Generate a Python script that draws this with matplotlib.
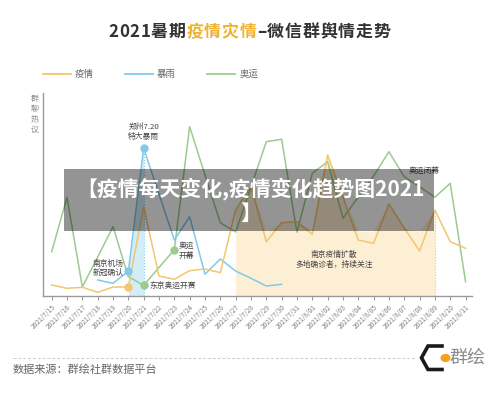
import numpy as np
import matplotlib
matplotlib.use('Agg')
from matplotlib import pyplot as plt
from matplotlib.lines import Line2D
from matplotlib.patches import Rectangle, Circle

plt.rcParams['font.family'] = ['Noto Sans CJK SC', 'DejaVu Sans']

DATES = ['2021/7/15', '2021/7/16', '2021/7/17', '2021/7/18', '2021/7/19', '2021/7/20', '2021/7/21',
         '2021/7/22', '2021/7/23', '2021/7/24', '2021/7/25', '2021/7/26', '2021/7/27', '2021/7/28',
         '2021/7/29', '2021/7/30', '2021/7/31', '2021/8/01', '2021/8/02', '2021/8/03', '2021/8/04',
         '2021/8/05', '2021/8/06', '2021/8/07', '2021/8/08', '2021/8/09', '2021/8/10', '2021/8/11']

# 疫情 (epidemic)
EPIDEMIC = [11, 7.7, 8.7, 3.7, 9, 9, 89.3, 20, 16.7, 25.3, 27, 23.3, 86, 110,
            54.3, 73.3, 74.3, 61.7, 141, 99, 56, 52.7, 92, 68, 45, 86, 54.3, 47.7]
# 暴雨 (rainstorm), 7/18 .. 7/30
RAIN_START = 3
RAIN = [16, 12.7, 24.7, 147.7, 102, 56, 79.3, 21.8, 37, 25, 17.7, 10, 11.7]
# 奥运 (olympics)
OLYMPICS = [44.3, 98.7, 9, 39, 69.3, 19.3, 10.7, 28.5, 46.3, 169.3, 121, 73.3, 64, 109,
            154.3, 156.7, 63.7, 122.7, 134.3, 77.7, 99, 120, 144.3, 119.3, 109.3, 98.7, 112.7, 14.3]

EPI_FILL = (12, 25)     # 7/27 .. 8/9 shaded
EPI_FILL_LEVEL = 65
RAIN_FILL = (5, 6)      # 7/20 .. 7/21

ORANGE = '#f3c66f'
BLUE = '#82c9ea'
GREEN = '#9ccb8e'
TXT = '#444444'

W, H = 500, 401
fig = plt.figure(figsize=(5, 4.01), dpi=100)


def fx(px):
    return px / W


def fy(py):
    return 1 - py / H


ax = fig.add_axes([fx(43), fy(296), fx(472) - fx(43), fy(93) - fy(296)])
x = np.arange(len(DATES))
epi = np.array(EPIDEMIC)
rain_x = np.arange(RAIN_START, RAIN_START + len(RAIN))
rain = np.array(RAIN)
oly = np.array(OLYMPICS)

# shaded regions
s, e = EPI_FILL
ax.fill_between(x[s:e + 1], 0, np.maximum(epi[s:e + 1], EPI_FILL_LEVEL), color='#fdefd4', lw=0, zorder=1)
rs, re_ = RAIN_FILL
ax.fill_between(x[rs:re_ + 1], 0, rain[rs - RAIN_START:re_ - RAIN_START + 1], color='#d3edf8', lw=0, zorder=1)
ax.vlines(x[re_], 0, rain[re_ - RAIN_START], colors=BLUE, linestyles=':', lw=0.8, zorder=2)
ax.vlines(x[e], 0, epi[e], colors=ORANGE, linestyles=':', lw=0.8, zorder=2)

ax.plot(x, oly, color=GREEN, lw=1.1, zorder=3)
ax.plot(rain_x, rain, color=BLUE, lw=1.1, zorder=3)
ax.plot(x, epi, color=ORANGE, lw=1.1, zorder=3)

ax.plot([5], [epi[5]], 'o', color=ORANGE, ms=5, zorder=4)
ax.plot([5, 6], rain[[5 - RAIN_START, 6 - RAIN_START]], 'o', color=BLUE, ms=5, zorder=4)
ax.plot([6, 8], oly[[6, 8]], 'o', color=GREEN, ms=5, zorder=4)

ax.set_xlim(-0.567, 27.42)
ax.set_ylim(0, 203)
for side in ['top', 'right']:
    ax.spines[side].set_visible(False)
for side in ['left', 'bottom']:
    ax.spines[side].set_color('#9a9a9a')
    ax.spines[side].set_linewidth(1)
ax.set_yticks([])
ax.set_xticks(x)
ax.set_xticklabels(DATES, rotation=45, ha='right', va='top', rotation_mode='anchor',
                   fontsize=4.8, color='#808080')
ax.tick_params(axis='x', length=3, color='#9a9a9a', pad=2)
ax.patch.set_alpha(0)

# annotations
fs = 5.6
ax.text(6, 164.3, '郑州7.20\n特大暴雨', fontsize=fs, color=TXT, ha='center', va='center', linespacing=1.25)
ax.text(3.67, 27.5, '南京机场\n新冠确认', fontsize=fs, color=TXT, ha='center', va='center', linespacing=1.25)
ax.text(6.37, 9.3, '东京奥运开赛', fontsize=fs, color=TXT, ha='left', va='center')
ax.text(8.3, 45.3, '奥运\n开幕', fontsize=fs, color=TXT, ha='left', va='center', linespacing=1.25)
ax.text(18.43, 36.3, '南京疫情扩散\n多地确诊者，持续关注', fontsize=fs, color=TXT, ha='center', va='center',
        linespacing=1.25)
ax.text(24.3, 125, '奥运闭幕', fontsize=fs, color=TXT, ha='center', va='center')

# y label
for i, ch in enumerate('群聊热议'):
    fig.text(fx(35), fy(98.5 + i * 10.3), ch, fontsize=5.8, color='#888888', ha='center', va='center')

# title, character by character with a little tracking, three colours
renderer = fig.canvas.get_renderer()
parts = [('2021暑期', '#333333'), ('疫情灾情', '#f0b232'), ('–微信群舆情走势', '#333333')]
chars = []
for txt, col in parts:
    for ch in txt:
        t = fig.text(0, fy(32), ch, color=col, fontsize=12.2, fontweight='bold', va='center', ha='left')
        chars.append((t, t.get_window_extent(renderer).width))
title_left, title_right = 108, 390
raw = sum(w for _, w in chars)
gap = (title_right - title_left - raw) / (len(chars) - 1)
cur = title_left
for t, w in chars:
    t.set_x(fx(cur))
    cur += w + gap

# legend
legend_items = [('疫情', ORANGE, 43, 75), ('暴雨', BLUE, 125, 157), ('奥运', GREEN, 207, 240)]
for label, col, x0, tx in legend_items:
    fig.add_artist(Line2D([fx(x0), fx(x0 + 28)], [fy(74), fy(74)], color=col, lw=1.3))
    fig.text(fx(tx), fy(74), label, fontsize=6.8, color='#666666', va='center', ha='left')

# footer
fig.add_artist(Line2D([fx(13), fx(416)], [fy(358.3), fy(358.3)], color='#cccccc', lw=0.7, ls=(0, (3, 2))))
fig.text(fx(13), fy(370), '数据来源：群绘社群数据平台', fontsize=8, color='#666666', va='center', ha='left')
hex_x = [442, 428, 421.5, 428, 442]
hex_y = [346, 346, 357.8, 369.5, 369.5]
fig.add_artist(Line2D([fx(v) for v in hex_x], [fy(v) for v in hex_y], color='#1a1a1a', lw=2.6,
                      solid_joinstyle='miter'))
fig.add_artist(Circle((fx(445.5), fy(358)), 4.3 / W, color='#f5a21e', transform=fig.transFigure))
fig.text(fx(450), fy(358), '群绘', fontsize=13, color='#8a8a8a', va='center', ha='left')

# grey banner overlay
fig.add_artist(Rectangle((fx(64), fy(231)), fx(434) - fx(64), fy(169) - fy(231), facecolor='black',
                         alpha=0.42, lw=0, zorder=10))
fig.text(fx(251), fy(200.5), '【疫情每天变化,疫情变化趋势图2021\n】', fontsize=15, fontweight='bold',
         color='white', ha='center', va='center', multialignment='center', linespacing=1.2, zorder=11)

fig.savefig('out.png', dpi=100)
